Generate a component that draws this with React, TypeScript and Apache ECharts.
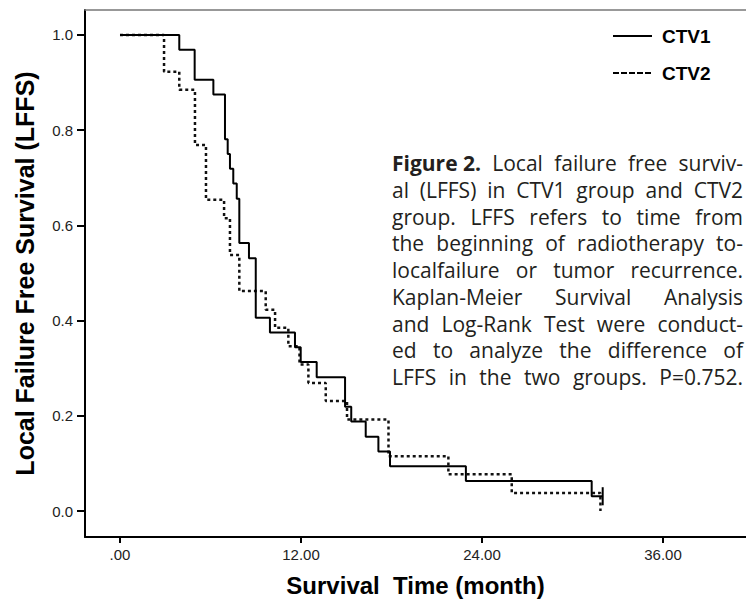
import React, { useEffect, useRef } from "react";
import * as echarts from "echarts";

// CTV1 Kaplan-Meier steps (time in months, survival after the step)
const ctv1Time = [0, 3.93, 4.95, 6.19, 6.96, 7.14, 7.29, 7.51, 7.74, 7.91, 8.55, 9.0, 9.94, 11.6, 11.98, 13.04, 14.92, 15.33, 16.29, 17.13, 17.9, 22.93, 31.27, 32.0];
const ctv1Surv = [1.0, 0.969, 0.906, 0.875, 0.781, 0.75, 0.719, 0.688, 0.656, 0.563, 0.531, 0.406, 0.375, 0.344, 0.313, 0.281, 0.219, 0.188, 0.156, 0.125, 0.094, 0.063, 0.031, 0.031];
const ctv1CensorTime = [32.0, 32.0];
const ctv1CensorSurv = [0.012, 0.05];

// CTV2 Kaplan-Meier steps
const ctv2Time = [0, 2.92, 3.93, 4.97, 5.7, 6.9, 7.29, 7.91, 9.66, 10.28, 11.16, 11.9, 12.49, 13.64, 15.05, 17.8, 21.77, 25.97, 31.85];
const ctv2Surv = [1.0, 0.923, 0.885, 0.769, 0.654, 0.615, 0.538, 0.462, 0.423, 0.385, 0.346, 0.308, 0.269, 0.231, 0.192, 0.115, 0.077, 0.038, 0.0];

const xTicks = [0, 12, 24, 36];
const xTickLabels = [".00", "12.00", "24.00", "36.00"];
const yTicks = [0, 0.2, 0.4, 0.6, 0.8, 1.0];
const yTickLabels = ["0.0", "0.2", "0.4", "0.6", "0.8", "1.0"];

const seriesNames = ["CTV1", "CTV2"];
const xTitle = "Survival  Time (month)";
const yTitle = "Local Failure Free Survival (LFFS)";

const captionBold = "Figure 2.";
const captionLines = [
  "Figure 2. Local failure free surviv-",
  "al (LFFS) in CTV1 group and CTV2",
  "group. LFFS refers to time from",
  "the beginning of radiotherapy to-",
  "localfailure or tumor recurrence.",
  "Kaplan-Meier Survival Analysis",
  "and Log-Rank Test were conduct-",
  "ed to analyze the difference of",
  "LFFS in the two groups. P=0.752.",
];

const AXIS_FONT = "'Liberation Sans', Arial, sans-serif";
const CAP_FONT = "'Open Sans', sans-serif";

function buildCaption(): any[] {
  const canvas = document.createElement("canvas");
  const ctx = canvas.getContext("2d") as CanvasRenderingContext2D;
  const measure = (t: string, size: number, bold: boolean) => {
    ctx.font = `${bold ? "bold " : ""}${size}px 'Open Sans'`;
    return ctx.measureText(t).width;
  };
  const left = 392;
  const right = 743;
  const width = right - left;
  const top = 163;
  const lh = 26.75;
  const tokenize = (line: string, li: number) => {
    let tokens: { t: string; b: boolean }[] = [];
    if (li === 0) {
      tokens.push({ t: captionBold, b: true });
      line
        .slice(captionBold.length)
        .trim()
        .split(" ")
        .forEach((w) => tokens.push({ t: w, b: false }));
    } else {
      tokens = line.split(" ").map((w) => ({ t: w, b: false }));
    }
    return tokens;
  };
  const natural = (li: number, size: number) => {
    const tk = tokenize(captionLines[li], li);
    const sp = measure(" ", size, false);
    return tk.reduce((a, k) => a + measure(k.t, size, k.b), 0) + sp * (tk.length - 1);
  };
  const s0 = (18 * (width - 1)) / natural(0, 18);
  const s1 = (18 * (width - 1)) / natural(1, 18);
  const size = Math.max(15, Math.min(21, Math.min(s0, s1)));
  const els: any[] = [];
  captionLines.forEach((line, li) => {
    const tokens = tokenize(line, li);
    const widths = tokens.map((tk) => measure(tk.t, size, tk.b));
    const sum = widths.reduce((a, b) => a + b, 0);
    const gap = tokens.length > 1 ? (width - sum) / (tokens.length - 1) : 0;
    let x = left;
    tokens.forEach((tk, i) => {
      els.push({
        type: "text",
        x,
        y: top + li * lh,
        style: {
          text: tk.t,
          fontFamily: CAP_FONT,
          fontSize: size,
          fontWeight: tk.b ? "bold" : "normal",
          fill: "#231f20",
          align: "left",
          verticalAlign: "middle",
        },
      });
      x += widths[i] + gap;
    });
  });
  return els;
}

export default function App() {
  const ref = useRef<HTMLDivElement>(null);
  useEffect(() => {
    if (!ref.current) return;
    const chart = echarts.init(ref.current, undefined, { renderer: "svg" });
    const legendEls: any[] = [
      {
        type: "line",
        shape: { x1: 613, y1: 36, x2: 652, y2: 36 },
        style: { stroke: "#000", lineWidth: 2 },
      },
      {
        type: "line",
        shape: { x1: 613, y1: 73, x2: 652, y2: 73 },
        style: { stroke: "#000", lineWidth: 2, lineDash: [6, 2] },
      },
      {
        type: "text",
        x: 662,
        y: 36,
        style: { text: seriesNames[0], fontFamily: AXIS_FONT, fontSize: 19, fontWeight: "bold", fill: "#000", verticalAlign: "middle" },
      },
      {
        type: "text",
        x: 662,
        y: 73,
        style: { text: seriesNames[1], fontFamily: AXIS_FONT, fontSize: 19, fontWeight: "bold", fill: "#000", verticalAlign: "middle" },
      },
    ];
    const option: any = {
      animation: false,
      backgroundColor: "#fff",
      grid: { left: 85, right: 0, top: 10, bottom: 67, containLabel: false },
      xAxis: [
        {
          type: "value",
          min: -2.32,
          max: 41.5,
          name: xTitle,
          nameLocation: "middle",
          nameGap: 36,
          nameTextStyle: { fontFamily: AXIS_FONT, fontSize: 24, fontWeight: "bold", color: "#000" },
          axisLine: { show: true, onZero: false, lineStyle: { color: "#000", width: 2 } },
          axisTick: { show: true, length: 6, customValues: xTicks, lineStyle: { color: "#000", width: 2 } },
          axisLabel: {
            customValues: xTicks,
            formatter: (v: number) => xTickLabels[xTicks.indexOf(v)] ?? "",
            fontFamily: AXIS_FONT,
            fontSize: 15,
            color: "#222",
            margin: 10,
          },
          splitLine: { show: false },
        },
        {
          type: "value",
          position: "top",
          min: -2.32,
          max: 41.5,
          axisLine: { show: true, onZero: false, lineStyle: { color: "#777", width: 1.5 } },
          axisTick: { show: false },
          axisLabel: { show: false },
          splitLine: { show: false },
        },
      ],
      yAxis: {
        type: "value",
        min: -0.0546,
        max: 1.0525,
        name: yTitle,
        nameLocation: "middle",
        nameGap: 48,
        nameRotate: 90,
        nameTextStyle: { fontFamily: AXIS_FONT, fontSize: 25, fontWeight: "bold", color: "#000" },
        axisLine: { show: true, onZero: false, lineStyle: { color: "#000", width: 2 } },
        axisTick: { show: true, length: 8, customValues: yTicks, lineStyle: { color: "#000", width: 2 } },
        axisLabel: {
          customValues: yTicks,
          formatter: (v: number) => yTickLabels[yTicks.findIndex((t) => Math.abs(t - v) < 1e-9)] ?? "",
          fontFamily: AXIS_FONT,
          fontSize: 15,
          color: "#222",
          margin: 12,
        },
        splitLine: { show: false },
      },
      series: [
        {
          name: seriesNames[0],
          type: "line",
          step: "end",
          symbol: "none",
          data: ctv1Time.map((t, i) => [t, ctv1Surv[i]]),
          lineStyle: { color: "#000", width: 2 },
          z: 3,
        },
        {
          name: seriesNames[0] + " censored",
          type: "line",
          symbol: "none",
          data: ctv1CensorTime.map((t, i) => [t, ctv1CensorSurv[i]]),
          lineStyle: { color: "#000", width: 2 },
          z: 3,
        },
        {
          name: seriesNames[1],
          type: "line",
          step: "end",
          symbol: "none",
          data: ctv2Time.map((t, i) => [t, ctv2Surv[i]]),
          lineStyle: { color: "#111", width: 2.5, type: [3, 3] },
          z: 2,
        },
      ],
      graphic: [...legendEls, ...buildCaption()],
    };
    chart.setOption(option);
    return () => chart.dispose();
  }, []);
  return (
    <div
      ref={ref}
      style={{ position: "fixed", left: 0, top: 0, width: 746, height: 604, background: "#fff" }}
    />
  );
}
